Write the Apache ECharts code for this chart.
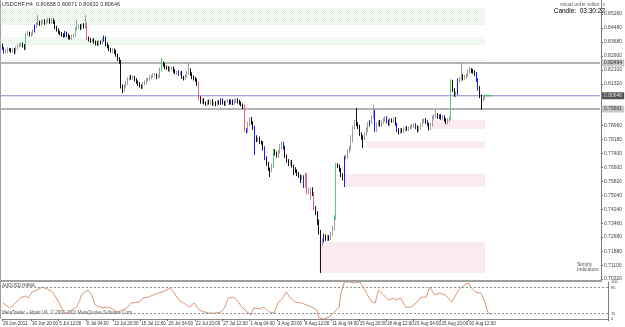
<!DOCTYPE html>
<html><head><meta charset="utf-8">
<script src="https://cdn.jsdelivr.net/npm/echarts@6/dist/echarts.min.js"></script>
<style>html,body{margin:0;padding:0;background:#fff}#c{width:625px;height:327px}</style>
</head><body><div id="c"></div>
<script>
// ---- data (prices x 10000) ----
const firstOpen = 8345;
const closes = [
8351,8334,8311,8317,8328,8323,8317,8328,8311,8334,
8345,8351,8356,8345,8334,8413,8418,8407,8413,8430,
8458,8469,8480,8469,8480,8486,8475,8486,8492,8480,
8492,8480,8452,8435,8424,8413,8407,8401,8418,8407,
8396,8390,8401,8407,8441,8452,8458,8447,8464,8452,
8469,8390,8379,8373,8379,8368,8362,8356,8368,8362,
8379,8390,8356,8340,8328,8317,8323,8311,8294,8272,
8255,8120,8097,8120,8137,8159,8170,8165,8170,8154,
8142,8131,8120,8114,8131,8142,8154,8159,8170,8176,
8182,8182,8170,8176,8210,8249,8238,8227,8221,8210,
8216,8221,8204,8193,8199,8187,8193,8170,8165,8176,
8193,8210,8187,8170,8159,8154,8131,8052,8030,8041,
8024,8018,8030,8024,8035,8018,8024,8018,8030,8024,
8041,8024,8018,8030,8035,8024,8035,8024,8035,8041,
8030,8024,8013,8001,7872,7866,7905,7934,7911,7883,
7832,7815,7821,7804,7798,7770,7714,7680,7652,7641,
7669,7753,7742,7725,7748,7776,7798,7770,7725,7697,
7680,7691,7669,7652,7641,7624,7612,7601,7607,7556,
7618,7522,7534,7539,7511,7432,7404,7353,7297,7229,
7252,7274,7257,7269,7263,7286,7319,7376,7674,7669,
7646,7618,7601,7714,7720,7753,7770,7815,7883,7917,
7905,7889,7849,7832,7827,7849,7872,7905,7917,7945,
7973,7872,7905,7917,7900,7917,7928,7939,7922,7905,
7928,7922,7934,7905,7872,7860,7872,7866,7877,7883,
7877,7883,7889,7894,7900,7889,7872,7883,7900,7922,
7928,7917,7905,7883,7900,7939,7951,7956,7945,7951,
7939,7945,7928,7917,7928,7939,8142,8097,8069,8080,
8148,8159,8176,8165,8170,8182,8199,8210,8204,8199,
8187,8154,8108,8063,8041,8052,8065];
// wick length above body / below body (pips)
const wickHi = [
10,8,6,12,9,7,10,8,6,9, 8,10,7,9,11,6,12,8,10,9, 8,10,40,9,12,8,10,7,11,9,
12,8,9,7,10,8,11,9,12,8, 7,10,9,8,12,40,9,11,8,10, 51,8,9,11,7,10,8,12,9,8,
10,14,8,9,11,7,10,8,12,9, 10,12,8,9,11,10,8,12,9,7, 10,8,11,9,12,8,10,9,11,8,
9,12,8,10,14,29,9,11,8,10, 12,8,9,11,7,10,9,12,8,10, 11,39,8,10,9,12,8,14,10,9,
11,8,10,12,9,11,8,10,12,9, 10,8,12,9,11,8,10,9,12,8, 10,12,9,8,14,10,12,9,11,10,
12,10,9,14,8,11,10,9,12,8, 14,12,10,9,11,16,10,8,12,9, 11,10,12,8,10,9,11,8,12,10,
14,10,12,9,10,12,11,10,14,12, 10,14,9,12,10,11,14,16,12,10, 9,11,10,12,14,10,12,28,14,12,
79,10,12,9,11,10,14,12,10,11, 40,12,10,9,11,10,12,9,11,10, 12,9,10,11,8,10,12,9,10,8,
11,9,10,12,8,10,9,11,10,12, 9,11,10,8,12,14,10,29,11,9, 10,12,9,11,10,8,16,12,10,9,
14,12,73,10,12,9,11,17,10,12, 9,12,10,11,9,10,8];
const wickLo = [
8,10,9,7,11,8,10,9,12,8, 9,7,10,8,11,12,9,8,10,7, 9,11,8,10,7,9,11,8,10,9,
8,10,12,9,11,8,10,9,7,12, 14,9,10,8,11,9,10,12,8,9, 10,12,9,11,8,10,14,9,11,8,
9,10,12,8,11,9,10,12,9,11, 10,14,17,10,9,12,8,10,11,9, 10,12,9,11,10,8,12,9,10,11,
9,10,12,8,11,10,9,12,10,8, 11,9,10,8,12,10,9,11,14,10, 9,11,10,12,8,10,11,12,10,9,
8,10,12,9,11,10,8,12,9,10, 11,9,10,12,8,10,9,11,10,12, 9,10,8,12,11,14,10,12,9,11,
101,12,10,11,9,14,12,10,11,34, 10,12,14,9,11,10,12,9,11,10, 12,10,9,34,11,12,10,28,11,12,
10,14,12,57,11,14,12,16,14,163, 12,14,10,11,16,12,10,14,12,11, 10,12,14,51,10,12,11,14,12,10,
11,12,10,14,57,12,10,11,14,10, 12,11,10,12,9,11,10,12,14,10, 11,9,12,10,12,14,10,11,9,12,
10,12,9,11,10,12,14,10,11,9, 12,10,11,14,12,10,9,11,10,12, 9,11,10,12,14,10,12,11,10,12,
11,10,12,14,10,9,11,10,12,10, 12,11,14,12,56,10,8];
const greenBars = [15,44,95,161,198,266];
const redBars = [51,117,144,181,185];
const blueBars = [2,20,38,61,105,130,136,145,150,156,167,179,191,203,218,221,228,234,245,252,259,270,281,282];

const timeLabels = ['29 Jun 2011','30 Jun 20:00','5 Jul 12:00','8 Jul 04:00','12 Jul 20:00','15 Jul 12:00','20 Jul 04:00','22 Jul 20:00','27 Jul 12:00','1 Aug 04:00','3 Aug 20:00','8 Aug 12:00','11 Aug 04:00','15 Aug 20:00','18 Aug 12:00','23 Aug 04:00','25 Aug 20:00','30 Aug 12:00'];
const timeLabelIdx = [0,17,33,49,65,81,97,113,129,145,161,177,193,209,225,241,257,273];
const priceTicks = [0.70320,0.71100,0.71880,0.72680,0.73460,0.74240,0.75040,0.75820,0.76600,0.77400,0.78180,0.78960,0.81320,0.82100,0.82900,0.83680,0.84480,0.85260];

const oscIdx = [0,1,4,5,8,10,13,15,17,21,23,26,29,32,35,36,39,40,43,45,46,48,50,52,54,58,62,64,67,70,73,75,80,82,85,88,91,95,98,100,103,106,109,112,115,118,121,124,128,130,132,135,137,140,143,145,147,150,153,156,159,161,164,166,168,171,175,178,181,184,185,188,191,194,197,198,200,203,206,209,211,213,216,218,220,223,226,229,230,233,236,239,242,245,248,250,253,256,259,263,264,267,270,273,274,277,280,282,284,286];
const oscVal = [43,38,30,35,46,57,62,57,73,81,86,81,73,51,24,16,16,24,32,51,65,73,78,65,38,30,32,27,19,24,32,43,46,57,59,65,70,76,84,73,51,43,32,43,24,19,16,16,19,32,57,59,51,32,19,11,30,27,32,19,16,43,57,73,59,46,43,38,32,24,3,0,5,19,32,70,100,100,97,100,86,70,46,43,78,65,51,57,51,57,32,32,43,59,59,86,65,70,65,46,43,78,92,97,86,73,70,51,19,11];
const oscLevels = [85, 15];

// zones: [fromBar, toBar, priceTop, priceBottom]
const supplyZones = [[0,286,0.85593,0.84635],[0,286,0.83959,0.83508],[0,286,0.82663,0.82494]];
const demandZones = [[255,286,0.79281,0.78774],[216,286,0.78098,0.77703],[203,286,0.76238,0.75505],[188,286,0.72405,0.70658]];
const grayLevels = [0.82494, 0.79901];
const bidPrice = 0.80646;

// ---- build ----
const SLOTS = 355;
const cats = Array.from({length: SLOTS}, (_, i) => String(i));
const candleData = closes.map((c, i) => {
  const o = i === 0 ? firstOpen : closes[i - 1];
  const hi = Math.max(o, c) + wickHi[i];
  const lo = Math.min(o, c) - wickLo[i];
  const item = {value: [o / 1e4, c / 1e4, lo / 1e4, hi / 1e4]};
  let col = null;
  if (greenBars.includes(i)) col = '#4fd07a';
  else if (redBars.includes(i)) col = '#f0607e';
  else if (blueBars.includes(i)) col = '#1c1cff';
  if (col) item.itemStyle = {color: col, color0: col, borderColor: col, borderColor0: col};
  return item;
});
const lastIdx = closes.length - 1;
const FONT = 'Liberation Sans';

// faint dotted fill pattern for the supply zones
const pat = document.createElement('canvas');
pat.width = 2; pat.height = 2;
const pctx = pat.getContext('2d');
pctx.fillStyle = '#ffffff'; pctx.fillRect(0, 0, 2, 2);
pctx.fillStyle = '#d4ecd4'; pctx.fillRect(0, 0, 1, 1);
pctx.fillStyle = '#eef7ee'; pctx.fillRect(1, 1, 1, 1);

function hLine(p, color, width, boxBg, boxFg) {
  return {type: 'line', xAxisIndex: 0, yAxisIndex: 0, silent: true, showSymbol: false, z: 3,
    data: [[0, p], [SLOTS - 1, p]], lineStyle: {color: color, width: width},
    endLabel: {show: true, formatter: p.toFixed(5), distance: 2, fontSize: 5, color: boxFg,
      backgroundColor: boxBg, padding: [1, 2, 1, 2], fontFamily: FONT}};
}

const chart = echarts.init(document.getElementById('c'), null, {renderer: 'canvas'});
chart.setOption({
  animation: false,
  backgroundColor: '#ffffff',
  grid: [
    {left: 0, top: 0, width: 608, height: 281},
    {left: 0, top: 282, width: 608, height: 37}
  ],
  xAxis: [
    {type: 'category', gridIndex: 0, data: cats, boundaryGap: true,
     axisLine: {show: true, lineStyle: {color: '#a0a0a0', width: 2}},
     axisTick: {show: false}, axisLabel: {show: false}, splitLine: {show: false}},
    {type: 'category', gridIndex: 1, data: cats, boundaryGap: true,
     axisLine: {show: true, lineStyle: {color: '#8a8a8a', width: 1}},
     axisTick: {show: true, length: 2, interval: (i) => timeLabelIdx.includes(i), lineStyle: {color: '#666'}},
     axisLabel: {show: true, interval: (i) => timeLabelIdx.includes(i), align: 'left', margin: 2,
       fontSize: 4.5, color: '#333', fontFamily: FONT,
       formatter: (v) => { const k = timeLabelIdx.indexOf(Number(v)); return k >= 0 ? timeLabels[k] : ''; }},
     splitLine: {show: false}}
  ],
  yAxis: [
    {type: 'value', gridIndex: 0, position: 'right', min: 0.70207, max: 0.86044,
     axisLine: {show: true, lineStyle: {color: '#808080'}},
     axisTick: {show: true, length: 2, customValues: priceTicks, lineStyle: {color: '#666'}},
     axisLabel: {show: true, customValues: priceTicks, margin: 3, fontSize: 5, color: '#444', fontFamily: FONT,
       formatter: (v) => v.toFixed(5)},
     splitLine: {show: false}},
    {type: 'value', gridIndex: 1, position: 'right', min: 0, max: 100,
     axisLine: {show: true, lineStyle: {color: '#808080'}},
     axisTick: {show: false},
     axisLabel: {show: true, customValues: [100, 85, 15, 0], margin: 3, fontSize: 4, color: '#444', fontFamily: FONT},
     splitLine: {show: false}}
  ],
  series: [
    {type: 'candlestick', xAxisIndex: 0, yAxisIndex: 0, data: candleData, barWidth: 1, z: 4,
     itemStyle: {color: '#9c9c9c', color0: '#111111', borderColor: '#9c9c9c', borderColor0: '#111111', borderWidth: 1},
     markArea: {silent: true, data: [
       ...supplyZones.map(z => [{xAxis: z[0], yAxis: z[2], itemStyle: {color: {image: pat, repeat: 'repeat'}}}, {xAxis: z[1], yAxis: z[3]}]),
       ...demandZones.map(z => [{xAxis: z[0], yAxis: z[2], itemStyle: {color: 'rgba(252,230,238,0.85)'}}, {xAxis: z[1], yAxis: z[3]}])
     ]}},
    hLine(grayLevels[0], '#b4b4b4', 2, '#c8c8c8', '#333'),
    hLine(grayLevels[1], '#b4b4b4', 2, '#c8c8c8', '#333'),
    hLine(bidPrice, '#8888d0', 1, '#505050', '#e0e0e0'),
    {type: 'line', xAxisIndex: 0, yAxisIndex: 0, silent: true, z: 5,
     data: [[lastIdx, bidPrice], [lastIdx + 4, bidPrice]],
     lineStyle: {color: '#22cc33', width: 1}, symbol: 'rect', symbolSize: 3,
     showSymbol: true, itemStyle: {color: '#22cc33'}},
    {type: 'line', xAxisIndex: 1, yAxisIndex: 1, showSymbol: false, silent: true,
     data: oscIdx.map((x, k) => [x, oscVal[k]]),
     lineStyle: {color: '#d8967c', width: 1},
     markLine: {silent: true, symbol: 'none', label: {show: false},
       lineStyle: {color: '#8a8a8a', type: [2, 2], width: 1},
       data: oscLevels.map(v => ({yAxis: v}))}}
  ],
  graphic: [
    {type: 'line', shape: {x1: 0.5, y1: 0, x2: 0.5, y2: 319}, style: {stroke: '#a0a0a0', lineWidth: 1}, silent: true},
    {type: 'text', left: 2, top: 1, style: {text: 'USDCHF,H4  0.80658 0.80671 0.80632 0.80646', fontSize: 5.5, fill: '#333', fontFamily: FONT}},
    {type: 'text', right: 20, top: 2, style: {text: 'visual order editor  x', fontSize: 5, fill: '#666', fontFamily: FONT}},
    {type: 'text', right: 20, top: 8, style: {text: 'Candle:  03:30:22', fontSize: 6.5, fill: '#000', fontFamily: FONT}},
    {type: 'text', left: 2, top: 283, style: {text: 'AUDUSD,H4MA', fontSize: 4.5, fill: '#444', fontFamily: FONT}},
    {type: 'text', left: 2, top: 310, style: {text: 'MetaTrader - Alpari UK, \u00a9 2001-2011 MetaQuotes Software Corp.', fontSize: 4.5, fill: '#555', fontFamily: FONT}},
    {type: 'text', left: 577, top: 262, style: {text: 'Simply\nIndicators', fontSize: 5, fill: '#555', fontFamily: FONT, align: 'center', lineHeight: 5}}
  ]
});
</script></body></html>
